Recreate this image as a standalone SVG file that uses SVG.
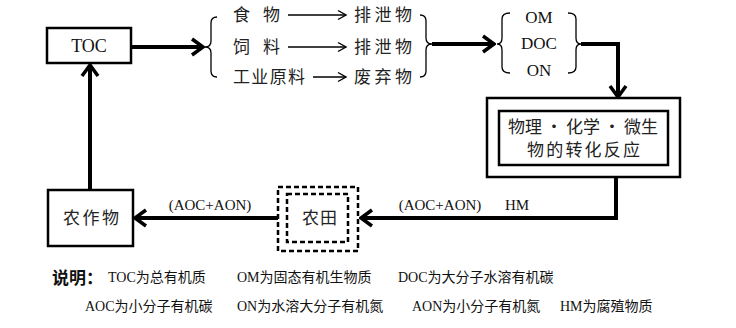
<svg xmlns="http://www.w3.org/2000/svg" width="736" height="328" viewBox="0 0 736 328">
<style>
.box{fill:#fff;stroke:#000;stroke-width:2.5}
.dbox{fill:none;stroke:#000;stroke-width:2.5;stroke-dasharray:5 3}
.thick{fill:none;stroke:#000;stroke-width:4}
.thin{fill:none;stroke:#000;stroke-width:1.4}
.brace{fill:none;stroke:#000;stroke-width:1.3}
.t{font-family:"Liberation Serif","Noto Sans CJK SC",serif;font-size:17px;fill:#111}
.c{font-family:"Noto Sans CJK SC","Liberation Serif",serif;font-size:17px;fill:#222}
.s{font-family:"Liberation Serif","Noto Sans CJK SC",serif;font-size:14px;fill:#111}
.l{font-family:"Liberation Serif","Noto Sans CJK SC",serif;font-size:15px;fill:#111}
.m{text-anchor:middle}
</style>
<defs>
<marker id="chev" markerUnits="userSpaceOnUse" viewBox="-14 -10 16 20" refX="0" refY="0" markerWidth="16" markerHeight="20" orient="auto">
<path d="M-11,-8 L0,0 L-11,8" fill="none" stroke="#000" stroke-width="3.5"/>
</marker>
<marker id="thinhead" markerUnits="userSpaceOnUse" viewBox="-10 -6 12 12" refX="0" refY="0" markerWidth="12" markerHeight="12" orient="auto">
<path d="M-8,-4.5 L0,0 L-8,4.5" fill="none" stroke="#000" stroke-width="1.4"/>
</marker>
</defs>

<g id="connectors">
<path class="thick" d="M131,47 H203" marker-end="url(#chev)"/>
<path class="thick" d="M432,44 H494" marker-end="url(#chev)"/>
<path class="thick" d="M581,44 H618 V97" marker-end="url(#chev)"/>
<path class="thick" d="M616,177 V218 H361" marker-end="url(#chev)"/>
<path class="thick" d="M278,218 H135" marker-end="url(#chev)"/>
<path class="thick" d="M90,190 V65" marker-end="url(#chev)"/>
<path class="thin" d="M288,15 H346" marker-end="url(#thinhead)"/>
<path class="thin" d="M288,47 H346" marker-end="url(#thinhead)"/>
<path class="thin" d="M313,77 H346" marker-end="url(#thinhead)"/>
<text class="l m" x="210" y="210">(AOC+AON)</text>
<text class="l m" x="440" y="210">(AOC+AON)</text>
<text class="l m" x="517" y="210">HM</text>
</g>

<g id="toc">
<rect class="box" x="47" y="28" width="84" height="35"/>
<text class="t m" x="89" y="52" style="font-size:18px">TOC</text>
</g>

<g id="sources">
<path class="brace" d="M217,17 Q211,17 211,23 L211,41 Q211,47 205,47 Q211,47 211,53 L211,71 Q211,77 217,77"/>
<text class="c" x="233" y="21">食</text>
<text class="c" x="263" y="21">物</text>
<text class="c" x="233" y="53">饲</text>
<text class="c" x="263" y="53">料</text>
<text class="c" x="233" y="83" textLength="72">工业原料</text>
</g>

<g id="wastes">
<text class="c" x="354" y="21" textLength="58">排泄物</text>
<text class="c" x="354" y="53" textLength="58">排泄物</text>
<text class="c" x="354" y="83" textLength="58">废弃物</text>
<path class="brace" d="M420,15 Q426,15 426,21 L426,38 Q426,44 432,44 Q426,44 426,50 L426,71 Q426,77 420,77"/>
</g>

<g id="forms">
<path class="brace" d="M510,13 Q502,13 502,19 L502,38 Q502,44 497,44 Q502,44 502,50 L502,67 Q502,73 510,73"/>
<path class="brace" d="M568,13 Q576,13 576,19 L576,38 Q576,44 581,44 Q576,44 576,50 L576,67 Q576,73 568,73"/>
<text class="t m" x="539" y="23">OM</text>
<text class="t m" x="539" y="49">DOC</text>
<text class="t m" x="539" y="76">ON</text>
</g>

<g id="reaction">
<rect class="box" x="487" y="98" width="193" height="79" stroke-width="3"/>
<rect class="box" x="499" y="111" width="169" height="54"/>
<text class="c" x="508" y="133" textLength="150">物理 · 化学 · 微生</text>
<text class="c" x="527" y="156" textLength="113">物的转化反应</text>
</g>

<g id="field">
<rect class="dbox" x="278" y="187" width="80" height="64"/>
<rect class="dbox" x="287" y="194" width="61" height="48"/>
<text class="c" x="302" y="224" textLength="35">农田</text>
</g>

<g id="crops">
<rect class="box" x="48" y="190" width="85" height="56"/>
<text class="c" x="63" y="224" textLength="56">农作物</text>
</g>

<g id="legend">
<text x="52" y="284" font-family="Noto Sans CJK SC, sans-serif" font-size="17" font-weight="bold" fill="#111">说明：</text>
<text class="s" x="108" y="282">TOC为总有机质</text>
<text class="s" x="237" y="282">OM为固态有机生物质</text>
<text class="s" x="398" y="282">DOC为大分子水溶有机碳</text>
<text class="s" x="85" y="311">AOC为小分子有机碳</text>
<text class="s" x="237" y="311">ON为水溶大分子有机氮</text>
<text class="s" x="412" y="311">AON为小分子有机氮</text>
<text class="s" x="560" y="311">HM为腐殖物质</text>
</g>
</svg>
